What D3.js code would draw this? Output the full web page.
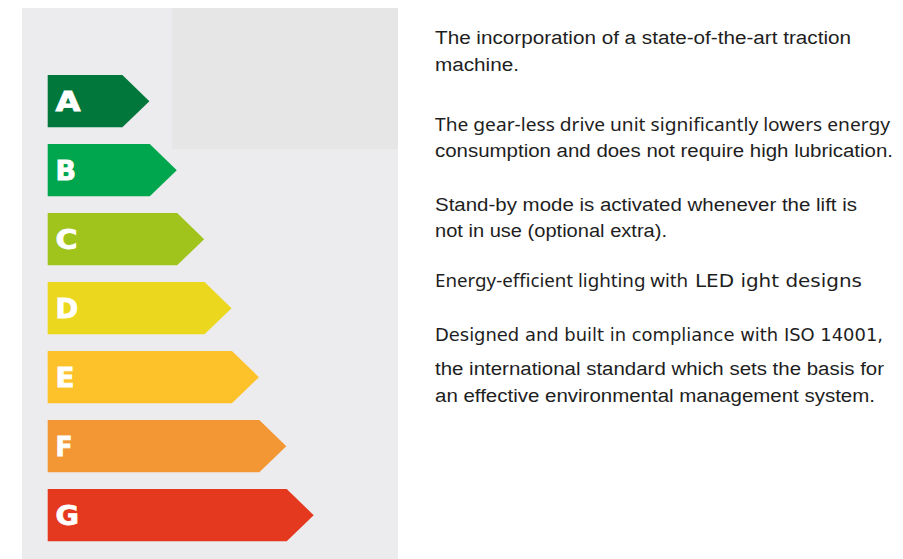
<!DOCTYPE html>
<html>
<head>
<meta charset="utf-8">
<script src="https://cdn.jsdelivr.net/npm/d3@7"></script>
<style>
  body { margin: 0; background: #fff; }
  svg { display: block; }
</style>
</head>
<body>
<svg width="903" height="559"></svg>
<script>
// energy classes, their level (bar length) and colour
var classes = ['A', 'B', 'C', 'D', 'E', 'F', 'G'];
var levels = [1, 2, 3, 4, 5, 6, 7];
var classColors = ['#02773b', '#00a64e', '#a0c41c', '#ebd71e', '#fdc22a', '#f39634', '#e4381f'];

// description lines on the right; each line is made of segments in different fonts
var lineTexts = [
    [['The incorporation of a state-of-the-art traction', 'arial']],
    [['machine.', 'arial']],
    [['The gear-less drive unit significantly lowers energy', 'tail']],
    [['consumption and does not require high lubrication.', 'arial']],
    [['Stand-by mode is activated whenever the lift is', 'arial']],
    [['not in use (optional extra).', 'arial']],
    [['Energy-efficient lighting with ', 'tail'], ['LED ight designs', 'wide']],
    [['Designed and built in compliance with ISO 14001,', 'wide']],
    [['the international standard which sets the basis for', 'arial']],
    [['an effective environmental management system.', 'arial']]
];

// layout of the text lines (baseline and drawn width of each segment)
var lineBaselines = [44, 71, 131, 157, 211, 237, 287, 341, 375, 402];
var lineWidths = [[416], [84], [455], [458], [422], [232], [258, 167], [448], [449], [440]];
// drawn width of the class letters (the original face is very wide)
var letterWidths = [25, 20.5, 22, 22.7, 19, 17, 23.5];

var fonts = {
    arial: '"Liberation Sans", Arial, sans-serif',
    tail: '"Noto Sans", "Open Sans", sans-serif',
    wide: '"DejaVu Sans", Verdana, sans-serif'
};

var svg = d3.select('svg');

// background panels
svg.append('rect')
    .attr('x', 22).attr('y', 8)
    .attr('width', 376).attr('height', 551)
    .attr('fill', '#ececee');

svg.append('rect')
    .attr('x', 172).attr('y', 8)
    .attr('width', 226).attr('height', 141)
    .attr('fill', '#e6e6e6');

// scales
var yScale = d3.scaleBand()
    .domain(classes)
    .range([75, 541.3])
    .paddingInner(0.242);

var xScale = d3.scaleLinear()
    .domain([0, 7])
    .range([95, 286.7]);

var x0 = 47.7;
var tip = 27;

var data = classes.map(function (c, i) {
    return { cls: c, level: levels[i], color: classColors[i], lw: letterWidths[i] };
});

var barG = svg.selectAll('.bar')
    .data(data)
    .enter()
    .append('g')
    .attr('class', 'bar');

barG.append('path')
    .attr('d', function (d) {
        var y = yScale(d.cls);
        var h = yScale.bandwidth();
        var xe = xScale(d.level);
        return 'M' + x0 + ',' + y +
            'L' + xe + ',' + y +
            'L' + (xe + tip) + ',' + (y + h / 2) +
            'L' + xe + ',' + (y + h) +
            'L' + x0 + ',' + (y + h) + 'Z';
    })
    .attr('fill', function (d) { return d.color; });

barG.append('text')
    .attr('x', 55.5)
    .attr('y', function (d) { return yScale(d.cls) + yScale.bandwidth() / 2 + 10; })
    .attr('fill', '#fff')
    .attr('stroke', '#fff')
    .attr('stroke-width', 0.8)
    .attr('textLength', function (d) { return d.lw; })
    .attr('lengthAdjust', 'spacingAndGlyphs')
    .style('font-family', '"DejaVu Sans", sans-serif')
    .style('font-weight', 'bold')
    .style('font-size', '26px')
    .text(function (d) { return d.cls; });

// description text
var lines = svg.selectAll('.desc')
    .data(lineTexts)
    .enter()
    .append('text')
    .attr('class', 'desc')
    .attr('y', function (d, i) { return lineBaselines[i]; })
    .attr('fill', '#1e1e1e')
    .style('font-size', '18px');

lines.each(function (segs, i) {
    var t = d3.select(this);
    var x = 435;
    segs.forEach(function (s, j) {
        var w = lineWidths[i][j];
        var sp = t.append('tspan')
            .attr('x', x)
            .style('font-family', fonts[s[1]])
            .text(s[0]);
        if (s[1] === 'wide') sp.style('font-size', '17px');
        sp.attr('textLength', w).attr('lengthAdjust', 'spacingAndGlyphs');
        x += w + (j === 0 && segs.length > 1 ? 2 : 0);
    });
});
</script>
</body>
</html>
